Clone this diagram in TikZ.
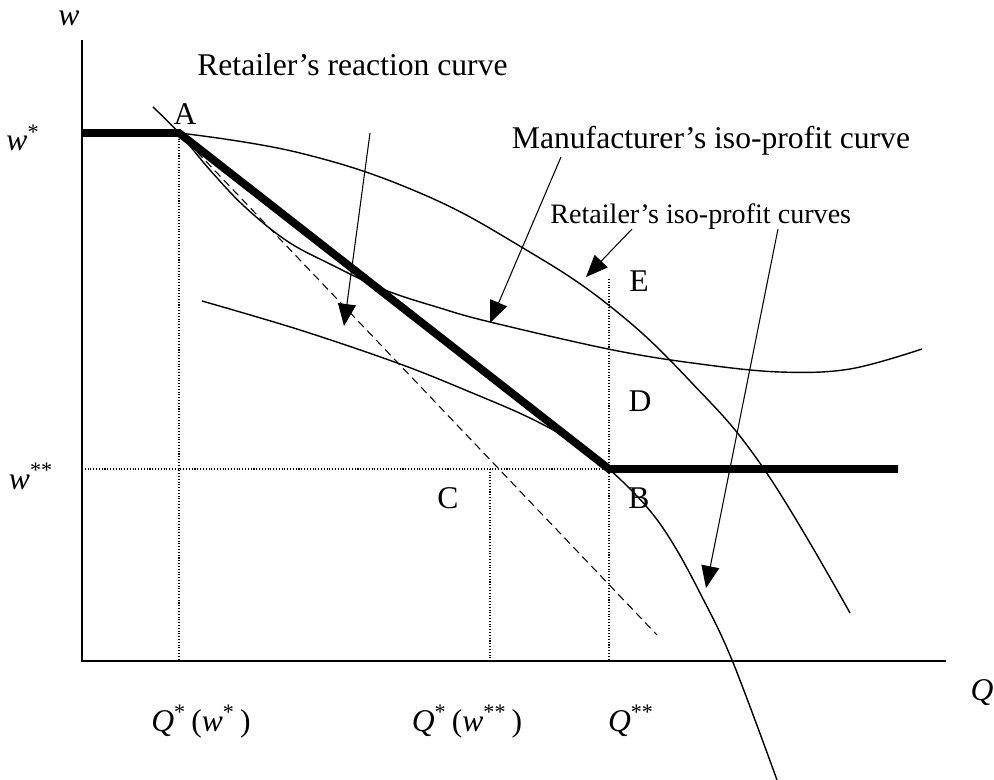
\documentclass[tikz,border=0pt]{standalone}
\usepackage{fontspec}
\setmainfont{Liberation Serif}
\usetikzlibrary{arrows.meta, positioning}

\begin{document}
\begin{tikzpicture}[
        x=0.02cm, y=-0.02cm,
        axis/.style={line width=0.9pt},
        reaction/.style={line width=4.5pt, line join=miter},
        curve/.style={line width=0.8pt},
        guide/.style={line width=0.6pt, dash pattern=on 0.6pt off 1pt},
        ray/.style={line width=0.6pt, dash pattern=on 0.16cm off 0.1cm},
        pointer/.style={-{Triangle[length=0.44cm, width=0.36cm]}, line width=0.6pt},
        lbl/.style={font=\fontsize{18}{21}\selectfont, inner sep=0pt},
        small/.style={font=\fontsize{16}{19}\selectfont, inner sep=0pt}
    ]
    \useasboundingbox (0,0) rectangle (994,780);

    \coordinate (O) at (82,661);
    \coordinate (ytop) at (82,40);
    \coordinate (xend) at (946,661);
    \coordinate (wstar) at (82,133);
    \coordinate (wss) at (82,469);
    \coordinate (A) at (179,133);
    \coordinate (B) at (609,469);
    \coordinate (rend) at (898,469);
    \coordinate (Qa) at (179,661);
    \coordinate (Qc) at (490,661);
    \coordinate (Cw) at (490,469);
    \coordinate (Etop) at (609,279);
    \coordinate (Qb) at (609,661);
    \coordinate (dend) at (657,635);

    \coordinate (reactfrom) at (370,133);
    \coordinate (reactto) at (344,326);
    \coordinate (manfrom) at (561,157);
    \coordinate (manto) at (490,323);
    \coordinate (retfromA) at (632,229);
    \coordinate (rettoA) at (586,277);
    \coordinate (retfromB) at (778,229);
    \coordinate (rettoB) at (706,588);

    % guide lines
    \draw[guide] (A) -- (Qa);
    \draw[guide] (wss) -- (B);
    \draw[guide] (Cw) -- (Qc);
    \draw[guide] (Etop) -- (Qb);

    % axes
    \draw[axis] (ytop) -- (O) -- (xend);

    \draw[ray] (A) -- (dend);

    % iso-profit curves
    \draw[curve] plot[smooth, tension=0.6] coordinates {(153,107) (179,133) (210,170) (245,207) (287,241) (330,264) (385,290) (440,308) (490,322) (613,350) (700,364) (780,372) (850,369) (922,349)};
    \draw[curve] plot[smooth, tension=0.7] coordinates {(179,133) (300,153) (420,193) (523,248) (611,307) (690,381) (764,469) (850,613)};
    \draw[curve] plot[smooth, tension=0.6] coordinates {(202,301) (300,330) (400,364) (470,392) (530,418) (575,443) (609,469) (646,506) (672,542) (700,593) (732,660) (777,780)};

    \draw[reaction] (wstar) -- (A) -- (B) -- (rend);

    \draw[pointer] (reactfrom) -- (reactto);
    \draw[pointer] (manfrom) -- (manto);
    \draw[pointer] (retfromA) -- (rettoA);
    \draw[pointer] (retfromB) -- (rettoB);

    \node[lbl, anchor=base] (wlab) at (69,26) {\textit{w}};
    \node[lbl, anchor=base] (wstarlab) at (23,151) {\textit{w}\textsuperscript{*}};
    \node[lbl, anchor=base] (wsslab) at (31,489) {\textit{w}\textsuperscript{**}};
    \node[lbl, anchor=base] (Qlab) at (982,700) {\textit{Q}};
    \node[lbl, anchor=base] (Qalab) at (201,731) {\textit{Q}\textsuperscript{*}\,(\textit{w}\textsuperscript{*}\,)};
    \node[lbl, anchor=base] (Qclab) at (467,731) {\textit{Q}\textsuperscript{*}\,(\textit{w}\textsuperscript{**}\,)};
    \node[lbl, anchor=base] (Qblab) at (631,731) {\textit{Q}\textsuperscript{**}};

    \node[lbl, anchor=base west] (reactlab) at (197,76) {Retailer’s reaction curve};
    \node[lbl, anchor=base] (manlab) at (711,149) {Manufacturer’s iso-profit curve};
    \node[small, anchor=base west] (retlab) at (550,224) {Retailer’s iso-profit curves};

    \node[lbl, anchor=base] (Alab) at (185,125) {A};
    \node[lbl, anchor=base] (Elab) at (639,292) {E};
    \node[lbl, anchor=base] (Dlab) at (640,412) {D};
    \node[lbl, anchor=base] (Clab) at (448,508) {C};
    \node[lbl, anchor=base] (Blab) at (639,508) {B};
\end{tikzpicture}
\end{document}
